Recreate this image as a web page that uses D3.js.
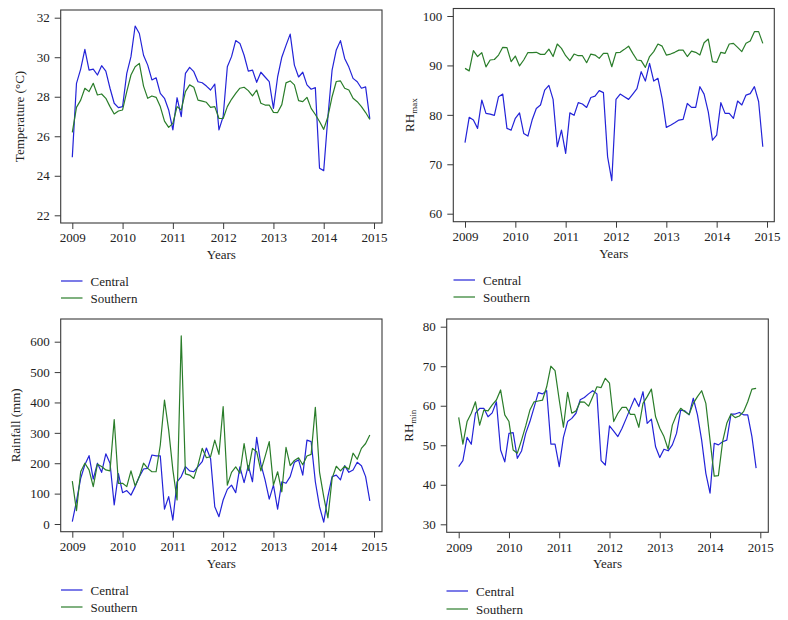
<!DOCTYPE html>
<html>
<head>
<meta charset="utf-8">
<script src="https://cdn.jsdelivr.net/npm/d3@7"></script>
<style>
  html, body { margin: 0; padding: 0; background: #fff; }
  svg text { font-family: "Liberation Serif", "DejaVu Serif", serif; fill: #222; }
</style>
</head>
<body>
<svg id="chart" width="788" height="620"></svg>
<script>
// ---------- DATA (monthly, Jan 2009 – Dec 2014) ----------
const seriesNames = ["Central", "Southern"];
const yearTicks = [2009, 2010, 2011, 2012, 2013, 2014, 2015];

const tempCentral = [24.94, 28.68, 29.4, 30.4, 29.35, 29.4, 29.1, 29.57, 29.3, 28.43, 27.67, 27.45,
  27.5, 29.18, 30.03, 31.58, 31.2, 30.1, 29.6, 28.85, 28.96, 28.17, 27.92, 27.33,
  26.32, 27.95, 26.99, 29.18, 29.49, 29.27, 28.76, 28.71, 28.54, 28.34, 28.64, 26.32,
  27.0, 29.52, 30.03, 30.84, 30.7, 30.1, 29.3, 29.35, 28.73, 29.24, 29.0, 28.76,
  27.41, 29.0, 30.0, 30.6, 31.17, 29.6, 29.0, 29.24, 28.6, 28.38, 28.46, 24.38,
  24.26, 26.99, 29.35, 30.37, 30.84, 29.94, 29.5, 28.93, 28.76, 28.43, 28.5, 26.88];
const tempSouthern = [26.2, 27.46, 27.83, 28.43, 28.26, 28.68, 28.09, 28.14, 27.92, 27.5, 27.13, 27.28,
  27.33, 28.26, 29.1, 29.52, 29.69, 28.54, 27.92, 28.04, 27.97, 27.5, 26.77, 26.45,
  26.65, 27.5, 27.33, 28.26, 28.6, 28.48, 27.83, 27.78, 27.72, 27.46, 27.5, 26.9,
  26.9, 27.5, 27.87, 28.17, 28.43, 28.48, 28.31, 28.04, 28.34, 27.67, 27.58, 27.58,
  27.21, 27.2, 27.6, 28.7, 28.8, 28.6, 27.8, 27.75, 27.97, 27.41, 27.1, 26.75,
  26.35, 26.99, 28.0, 28.77, 28.8, 28.43, 28.34, 27.92, 27.75, 27.5, 27.2, 26.85];

const rhmaxCentral = [74.4, 79.5, 78.95, 77.26, 83.0, 80.3, 80.16, 79.9, 83.67, 84.2, 77.26, 76.9,
  79.3, 80.4, 76.25, 75.7, 78.95, 81.3, 82.0, 85.0, 85.97, 83.13, 73.55, 76.9,
  72.2, 80.4, 79.9, 82.46, 82.2, 81.5, 83.5, 83.8, 84.9, 84.5, 71.5, 66.7,
  83.13, 84.2, 83.67, 83.13, 84.2, 85.3, 88.73, 86.84, 90.4, 86.84, 87.4, 83.3,
  77.46, 77.9, 78.4, 78.95, 79.1, 82.3, 81.5, 81.5, 85.7, 84.2, 80.6, 74.9,
  75.9, 82.46, 80.3, 80.3, 79.3, 82.8, 82.0, 84.0, 84.3, 85.7, 82.7, 73.55];
const rhmaxSouthern = [89.4, 88.9, 93.0, 91.8, 92.6, 89.7, 91.1, 91.2, 92.1, 93.66, 93.6, 90.76,
  91.9, 89.9, 91.1, 92.6, 92.6, 92.65, 92.24, 92.24, 93.3, 91.8, 94.33, 93.45,
  91.97, 90.96, 92.3, 91.97, 91.97, 90.55, 92.3, 92.1, 91.43, 92.44, 92.44, 89.74,
  92.58, 92.65, 93.25, 93.9, 92.44, 91.1, 90.96, 89.6, 91.8, 92.8, 94.33, 93.9,
  92.1, 92.3, 92.65, 93.1, 93.1, 91.8, 92.9, 92.65, 92.1, 94.6, 95.34, 90.76,
  90.6, 92.65, 92.44, 94.33, 94.47, 93.66, 92.8, 94.47, 94.94, 96.83, 96.83, 94.47];

const rainCentral = [8, 75, 150, 195, 225, 148, 200, 170, 231, 200, 63, 166,
  103, 110, 95, 123, 156, 181, 183, 227, 224, 224, 49, 90,
  13, 139, 156, 189, 175, 172, 189, 205, 250, 215, 57, 24,
  79, 114, 128, 103, 188, 136, 192, 139, 285, 197, 145, 82,
  128, 49, 139, 134, 156, 203, 211, 161, 276, 271, 139, 57,
  6, 90, 156, 161, 145, 192, 170, 178, 203, 192, 156, 76];
const rainSouthern = [141, 44, 172, 200, 178, 123, 197, 189, 178, 175, 344, 134,
  134, 123, 175, 125, 156, 200, 183, 172, 172, 260, 408, 309,
  178, 79, 619, 165, 161, 150, 194, 249, 218, 222, 276, 229,
  386, 128, 170, 188, 167, 265, 176, 249, 238, 175, 222, 271,
  128, 172, 106, 252, 192, 209, 218, 195, 224, 229, 384, 171,
  90, 20, 150, 190, 175, 190, 180, 233, 213, 249, 265, 293];

const rhminCentral = [44.6, 46.1, 52.0, 50.25, 58.1, 59.35, 59.35, 57.2, 58.2, 61.0, 48.8, 45.8,
  53.0, 53.2, 46.7, 48.55, 53.0, 56.0, 59.6, 63.3, 63.0, 63.8, 50.3, 50.3,
  44.6, 52.0, 56.0, 56.8, 58.1, 61.5, 62.1, 63.0, 63.8, 63.0, 46.1, 45.0,
  54.9, 53.6, 52.2, 54.3, 56.8, 59.4, 61.9, 59.8, 63.55, 55.55, 56.6, 49.6,
  46.9, 49.0, 48.6, 50.1, 53.0, 58.9, 58.7, 57.7, 61.9, 57.7, 51.3, 42.9,
  37.9, 50.5, 50.1, 50.9, 51.3, 57.9, 57.9, 58.3, 57.7, 57.7, 52.2, 44.2];
const rhminSouthern = [57.05, 50.3, 56.0, 58.1, 61.0, 55.1, 58.9, 58.7, 60.2, 61.45, 64.0, 57.7,
  56.0, 48.8, 48.0, 51.3, 54.9, 58.9, 61.0, 61.2, 61.4, 64.8, 70.0, 68.9,
  61.45, 54.55, 63.4, 58.1, 58.7, 61.0, 60.9, 59.9, 62.3, 64.8, 64.6, 66.95,
  65.7, 56.0, 58.1, 59.6, 59.6, 57.8, 57.8, 54.55, 60.6, 62.3, 64.2, 57.2,
  54.3, 52.2, 49.0, 55.1, 57.7, 59.35, 58.5, 57.8, 60.6, 62.3, 63.8, 60.6,
  51.3, 42.2, 42.3, 50.9, 55.55, 57.9, 57.0, 57.4, 58.5, 61.0, 64.2, 64.4];

const tempTicks = [22, 24, 26, 28, 30, 32];
const rhmaxTicks = [60, 70, 80, 90, 100];
const rainTicks = [0, 100, 200, 300, 400, 500, 600];
const rhminTicks = [30, 40, 50, 60, 70, 80];

// ---------- LAYOUT ----------
const colors = ["#2323d8", "#2a7d2a"];
const svg = d3.select("#chart");

const panels = [
  { title: "Temperature (°C)", sub: null, central: tempCentral, southern: tempSouthern, ticks: tempTicks,
    box: [60.7, 10, 382, 223], xr: [72.3, 374], yr: [215.3, 17.7], titleX: 19.5,
    legY: [281, 298], legX: 61 },
  { title: "RH", sub: "max", central: rhmaxCentral, southern: rhmaxSouthern, ticks: rhmaxTicks,
    box: [453.3, 8.5, 774.3, 221.7], xr: [465, 767], yr: [213.7, 16], titleX: 409,
    legY: [280, 297], legX: 453.5 },
  { title: "Rainfall (mm)", sub: null, central: rainCentral, southern: rainSouthern, ticks: rainTicks,
    box: [60.7, 319, 382, 531.7], xr: [72.3, 374], yr: [524, 341.7], titleX: 15.5,
    legY: [590, 607], legX: 61 },
  { title: "RH", sub: "min", central: rhminCentral, southern: rhminSouthern, ticks: rhminTicks,
    box: [446.7, 319, 768.3, 532.3], xr: [458.7, 760.3], yr: [524.3, 326.7], titleX: 408,
    legY: [591, 609], legX: 446.5 }
];

panels.forEach(p => {
  const [bx0, by0, bx1, by1] = p.box;
  const x = d3.scaleLinear().domain([2009, 2015]).range(p.xr);
  const y = d3.scaleLinear().domain([p.ticks[0], p.ticks[p.ticks.length - 1]]).range(p.yr);
  const g = svg.append("g");

  // frame
  g.append("rect").attr("x", bx0).attr("y", by0).attr("width", bx1 - bx0).attr("height", by1 - by0)
    .attr("fill", "none").attr("stroke", "#3a3a3a").attr("stroke-width", 1.1);

  // x axis
  const xAxis = d3.axisBottom(x).tickValues(yearTicks).tickFormat(d3.format("d")).tickSize(6).tickSizeOuter(0).tickPadding(4);
  const gx = g.append("g").attr("transform", `translate(0,${by1})`).call(xAxis);
  gx.select(".domain").remove();
  gx.selectAll("line").attr("stroke", "#3a3a3a");
  gx.selectAll("text").attr("font-size", 13).attr("fill", "#222")
    .style("font-family", '"Liberation Serif", serif');

  // y axis
  const yAxis = d3.axisLeft(y).tickValues(p.ticks).tickSize(6).tickSizeOuter(0).tickPadding(5);
  const gy = g.append("g").attr("transform", `translate(${bx0},0)`).call(yAxis);
  gy.select(".domain").remove();
  gy.selectAll("line").attr("stroke", "#3a3a3a");
  gy.selectAll("text").attr("font-size", 13).attr("fill", "#222")
    .style("font-family", '"Liberation Serif", serif');

  // x title
  g.append("text").attr("x", (bx0 + bx1) / 2).attr("y", by1 + 36).attr("text-anchor", "middle")
    .attr("font-size", 13).text("Years");

  // y title
  const cy = (by0 + by1) / 2;
  const yt = g.append("text").attr("transform", `translate(${p.titleX},${cy}) rotate(-90)`)
    .attr("text-anchor", "middle").attr("font-size", 13).attr("dy", "0.35em");
  yt.append("tspan").text(p.title);
  if (p.sub) yt.append("tspan").attr("font-size", 9).attr("dy", "0.35em").text(p.sub);

  // lines
  const line = d3.line().x((d, i) => x(2009 + i / 12)).y(d => y(d));
  [p.central, p.southern].forEach((s, k) => {
    g.append("path").datum(s).attr("d", line).attr("fill", "none")
      .attr("stroke", colors[k]).attr("stroke-width", 1.2).attr("stroke-linejoin", "round");
  });

  // legend
  seriesNames.forEach((n, k) => {
    const ly = p.legY[k];
    g.append("line").attr("x1", p.legX).attr("x2", p.legX + 21.5).attr("y1", ly).attr("y2", ly)
      .attr("stroke", colors[k]).attr("stroke-width", 1.2);
    g.append("text").attr("x", p.legX + 29.5).attr("y", ly).attr("dy", "0.35em")
      .attr("font-size", 13).text(n);
  });
});
</script>
</body>
</html>
